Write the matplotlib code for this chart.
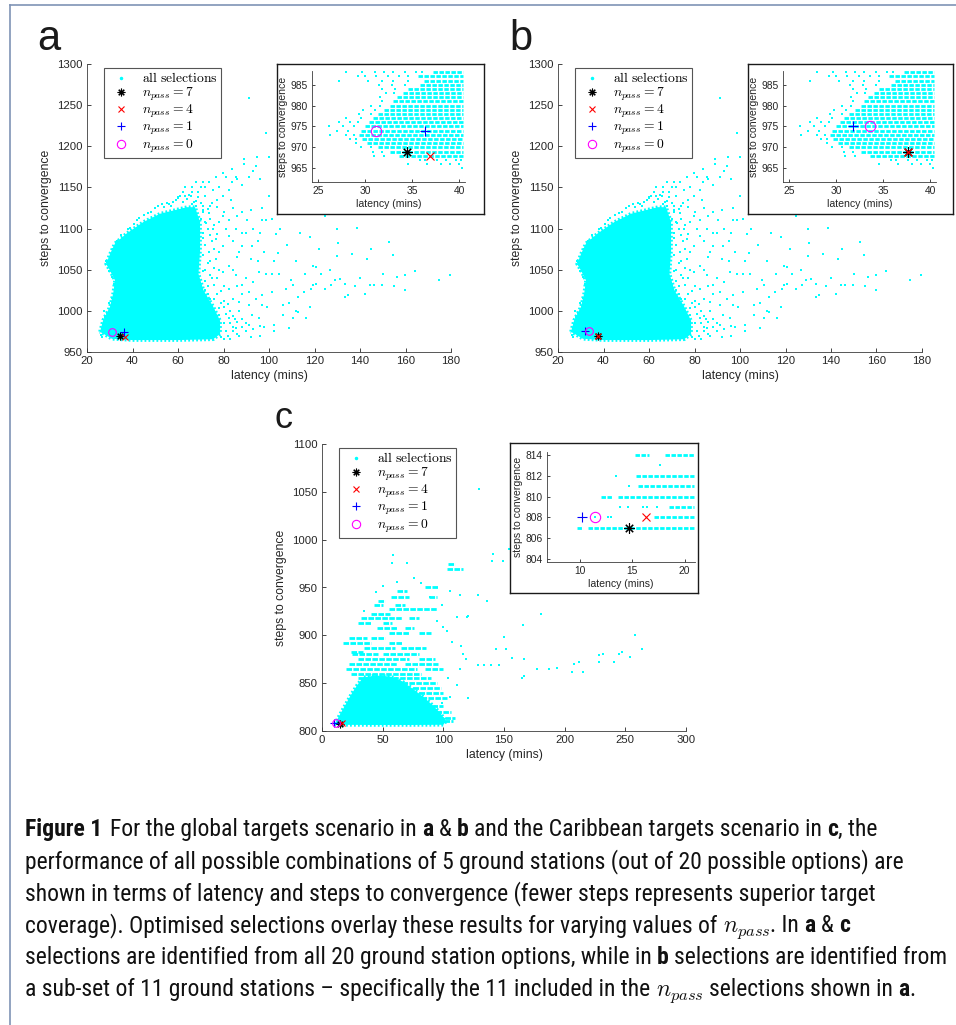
import matplotlib
matplotlib.use('Agg')
import matplotlib.pyplot as plt
from matplotlib import font_manager as fm
from matplotlib.lines import Line2D

W, H = 956, 1025
CYAN = '#00ffff'

# ---------------- DATA ----------------
# Panels a & b share the same "all selections" cloud
ab_core_lat = [25.7, 27.1, 30.1, 31.5, 32.3, 30.1, 28.4, 30.1, 32.3, 37.4, 44.8, 52.1, 58.0, 63.9, 67.5,
               69.7, 69.7, 69.0, 71.2, 75.5, 78.5, 78.5, 75.5, 60.0, 40.0, 31.0, 25.7]
ab_core_steps = [974.6, 988.6, 1005, 1021, 1037, 1049, 1057, 1069, 1082, 1094, 1108, 1118, 1122, 1126,
                 1126, 1108, 1073, 1045, 1025, 1005, 988, 972, 965.5, 964.5, 964.5, 966, 974.6]

ab_pts_lat = [91.3, 98.6, 94.6, 100.0, 94.1, 89.0, 83.9, 79.6, 81.1, 76.7, 73.8, 70.9, 68.0, 70.1, 75.2,
              82.5, 79.6, 83.3, 85.3, 91.2, 88.2, 83.8, 65.7, 62.1, 59.1, 68.0, 73.8, 79.6, 82.5, 85.5,
              90.5, 90.1, 88.2, 92.7, 91.9, 82.5, 79.6, 76.7, 75.2, 72.3, 70.9, 73.8, 76.7, 82.5, 79.6,
              85.5, 88.2, 91.2, 82.5, 94.1, 97.1, 91.2, 86.8, 97.1, 101.5, 99.3, 92.7, 95.6, 89.7, 82.5,
              85.5, 81.1, 76.7, 102.3, 108.9, 110.4, 112.6, 106.0, 108.9, 112.6, 115.5, 118.5, 119.2,
              120.7, 124.4, 127.3, 128.8, 131.0, 133.2, 134.6, 133.2, 120.7, 119.2, 116.3, 109.6, 110.4,
              107.5, 104.5, 101.5, 98.6, 95.6, 113.6, 130.5, 129.8, 136.4, 138.6, 143.0, 144.5, 146.0,
              149.6, 152.9, 154.7, 156.2, 159.8, 159.8, 164.2, 174.9, 179.6, 124.4, 101.5, 98.6, 103.0,
              72, 66, 63, 77, 74, 71, 73, 76, 74, 72, 75, 73, 77, 74, 80, 78, 80, 78, 83, 85, 87, 84, 88,
              90, 93, 86, 88, 86, 92, 80, 96, 95,
              26, 27.5, 26.8, 28, 29, 29.8, 31, 32.5, 33.5, 34, 29, 28.5, 30.5, 31.5, 33, 35, 38,
              40.5, 43, 45, 48, 50, 53, 56, 58, 60, 47, 51, 55, 42, 39,
              33, 34, 33.5, 32, 31, 29.5, 33, 34.5, 31.5, 27.5,
              79, 82, 84, 86, 80, 83, 88, 90, 76, 79, 72,
              71, 73, 75, 77, 70, 72, 74, 76, 78, 71, 74, 77, 72, 75, 78, 71, 73, 76, 71, 74, 77, 72,
              76, 79, 73, 76, 80, 78, 82, 81, 84, 86, 88, 84, 87, 80, 83, 91, 93, 96, 86, 84, 87, 84,
              81, 84, 88, 78, 72, 69, 63, 61, 66, 86, 93, 89, 96, 100, 97, 105, 108, 104, 112, 116,
              102, 98, 95, 93, 97, 123, 127, 140, 138, 142, 150, 155, 145, 130, 118, 122, 112, 118,
              106, 102, 98, 96, 92,
              62, 64, 66, 68, 70, 57, 60, 65, 69, 71, 54, 67]
ab_pts_steps = [1259, 1216, 1187, 1187, 1176, 1179, 1173, 1167, 1163, 1163, 1156, 1157, 1156, 1151, 1147,
                1147, 1139, 1135, 1163, 1163, 1153, 1157, 1139, 1144, 1135, 1127, 1119, 1115, 1111, 1099,
                1111, 1095, 1079, 1079, 1063, 1091, 1079, 1087, 1099, 1107, 1095, 1071, 1063, 1055, 1047,
                1043, 1031, 1023, 1027, 1015, 1007, 1007, 1011, 1019, 1023, 1005, 995, 991, 985, 991,
                979, 975, 981, 983, 979, 991, 999, 1007, 1009, 1017, 1023, 1027, 1031,
                1033, 1027, 1031, 1037, 1039, 1033, 1019, 1017, 1053, 1055, 991, 1037, 1031,
                1027, 1045, 1045, 1045, 1047, 1095, 1083, 1067, 1069, 1101, 1063, 1031, 1031,
                1031, 1084, 1068, 1041, 1043, 1025, 1048, 1038, 1043, 1115, 1112, 1110, 1094,
                1140, 1145, 1140, 1135, 1128, 1120, 1100, 1075, 1060, 1050, 1040, 1030, 1020, 1015, 1030,
                1050, 1005, 995, 1000, 990, 1000, 1015, 1020, 1040, 1035, 1065, 1095, 1115, 1122, 1120,
                1095, 1060,
                971, 981, 968, 992, 998, 1010, 1016, 1026, 1032, 1040, 1059, 1061, 1063, 1075, 1085,
                1092, 1099, 1105, 1113, 1116, 1120, 1125, 1130, 1130, 1132, 1137, 1119, 1127, 1131,
                1110, 1101,
                1044, 1028, 1052, 1033, 1041, 1049, 1054, 1047, 1012, 1000,
                968, 970, 975, 972, 985, 985, 980, 975, 1000, 1010, 1025,
                1128, 1124, 1131, 1126, 1112, 1108, 1112, 1104, 1108, 1088, 1092, 1094, 1080, 1085,
                1072, 1068, 1058, 1052, 1048, 1044, 1040, 1036, 1032, 1024, 1020, 1014, 1012, 1004, 1008,
                996, 994, 986, 990, 980, 970, 966, 966, 983, 978, 982, 1030, 1050, 1072, 1085, 1100,
                1125, 1120, 1150, 1150, 1145, 1150, 1140, 1150, 1160, 1170, 1185, 1160, 1140, 1125,
                1100, 1080, 1070, 1060, 1045, 1060, 1072, 1085, 1100, 1110, 1045, 1050, 1040, 1030,
                1020, 1045, 1030, 1075, 1100, 1090, 1075, 1000, 1005, 995, 975, 980, 970, 968,
                1132, 1136, 1130, 1134, 1131, 1128, 1138, 1141, 1138, 1122, 1126, 1132]

# inset (a & b): horizontal rows of selections at integer step counts
ab_row_steps = [988, 987, 986, 985, 984, 983, 982, 981, 980, 979, 978, 977, 976, 975, 974, 973, 972,
                971, 970, 969, 968]
ab_row_start = [37.2, 35.6, 36.2, 35.8, 34.6, 34.0, 33.4, 33.0, 32.6, 32.0, 31.4, 30.8, 30.4, 30.0,
                29.6, 29.4, 29.7, 30.2, 31.4, 32.6, 33.6]
ab_row_end = [40.4] * 21
ab_ins_lat = [28.0, 29.7, 31.1, 32.0, 33.0, 34.2, 35.4, 36.0,
              29.2, 30.0, 31.2, 32.4, 33.6, 34.6,
              27.2, 30.3, 31.8, 33.0, 34.5,
              31.5, 32.8, 34.2, 31.8, 33.2, 32.2, 33.1, 31.6, 31.8, 30.6, 31.6, 29.8, 31.0,
              29.4, 30.6, 28.0, 29.6, 27.2, 28.4, 29.2, 26.2, 27.6, 28.8, 27.0, 28.2,
              26.3, 28.0, 28.8, 28.4, 29.0, 29.0, 29.6, 30.6, 30.8, 31.8, 30.9, 32.0,
              35.8, 36.4, 37.6, 38.6, 39.6, 40.2, 34.6, 36.6, 38.0, 39.0, 40.0, 40.3]
ab_ins_steps = [988, 988, 988, 988, 988, 988, 988, 988,
                987, 987, 987, 987, 987, 987,
                986, 986, 986, 986, 986,
                985, 985, 985, 984, 984, 983, 983, 982, 981, 980, 980, 979, 979,
                978, 978, 977, 977, 976, 976, 976, 975, 975, 975, 974, 974,
                973, 973, 973, 972, 972, 971, 970, 970, 969, 969, 968, 968,
                967, 967, 967, 967, 967, 967, 966, 966, 966, 966, 966, 965]

# Panel c cloud
c_core_lat = [10, 40, 75, 100, 102, 98, 92, 85, 76, 66, 56, 44, 34, 29, 24, 20, 16, 12.5, 10]
c_core_steps = [806.5, 806.3, 806.3, 806.5, 810, 818, 826, 834, 843, 852, 857, 858, 856, 848, 838,
                829, 820, 812, 806.5]
c_streak_steps = [975, 969, 950, 946, 940, 940, 936, 932, 932, 928, 922, 918, 918, 913, 913, 908, 908,
                  902, 902, 897, 897, 892, 892, 887, 887, 883, 880, 880, 875, 875, 870, 870, 865, 865,
                  860, 855, 850, 845, 840, 835, 826, 820, 814, 810]
c_streak_lat0 = [104, 103, 85, 62, 57, 88, 46, 43, 60, 55, 40, 32, 72, 30, 50, 45, 68,
                 55, 80, 22, 40, 17, 55, 35, 65, 24, 25, 50, 30, 80, 22, 68, 20, 85,
                 24, 30, 60, 75, 80, 82, 85, 88, 90, 95]
c_streak_lat1 = [110, 116, 96, 70, 72, 95, 52, 50, 68, 95, 56, 66, 80, 40, 58, 62, 76,
                 72, 90, 37, 52, 40, 66, 60, 86, 34, 46, 80, 72, 93, 62, 96, 78, 100,
                 82, 90, 95, 98, 100, 103, 100, 106, 110, 108]
c_pts_lat = [58.8, 57.4, 69.8, 129, 141, 140, 149, 154, 62.2, 44.3, 113.7, 128.8, 135.7, 111, 119.2,
             100, 165.9, 180.4, 150.2, 143.3, 151.5, 157, 166.6, 165.2, 166.6, 177.6, 187.2, 194,
             207.7, 211.8, 206.3, 215.3, 228, 228.5, 232, 240.5, 244.6, 247.3, 254, 258.3, 263.8,
             114.6, 116, 128.4, 133.9, 139.4, 146.2, 102.8, 105.5, 89, 98.6, 106.8, 113.6, 104, 119,
             111, 105.5, 120.7, 98.6, 120, 76, 50, 35, 82, 95]
c_pts_steps = [984, 976, 976, 1053, 985, 978, 978, 990, 956, 945, 942, 942, 936, 919, 919,
               909, 911, 922, 898, 886, 886, 876, 875, 855, 857, 865, 865, 866,
               870, 872, 862, 862, 872, 879, 880, 872, 881, 883, 877, 900, 886,
               889, 880, 869, 869, 869, 869, 905, 946, 940, 932, 893, 865, 855, 875,
               848, 836, 834, 829, 920, 960, 952, 925, 955, 915]

# inset c rows
c_row_steps = [814, 814, 812, 811, 810, 810, 809, 808, 807, 807]
c_row_start = [15.3, 18.1, 15.4, 15.6, 12.0, 13.7, 18.5, 17.1, 9.8, 10.8]
c_row_end = [16.6, 20.9, 20.9, 20.9, 13.1, 20.9, 20.9, 20.9, 10.3, 20.9]
c_ins_lat = [17.7, 13.5, 14.75, 13.9, 14.6, 16.0, 16.4, 17.4, 11.5, 12.7, 13.0]
c_ins_steps = [813, 812, 811, 809, 809, 809, 809, 809, 808, 808, 808]

# optimised selections, order: n_pass = 7, 4, 1, 0
npass_values = ['7', '4', '1', '0']
a_sel_lat = [34.4, 36.9, 36.4, 31.2]
a_sel_steps = [969, 968, 974, 974]
b_sel_lat = [37.6, 37.6, 31.8, 33.6]
b_sel_steps = [969, 969, 975, 975]
c_sel_lat = [14.7, 16.3, 10.2, 11.5]
c_sel_steps = [807, 808, 808, 808]

ab_xticks = [20, 40, 60, 80, 100, 120, 140, 160, 180]
ab_yticks = [950, 1000, 1050, 1100, 1150, 1200, 1250, 1300]
c_xticks = [0, 50, 100, 150, 200, 250, 300]
c_yticks = [800, 850, 900, 950, 1000, 1050, 1100]
abi_xticks = [25, 30, 35, 40]
abi_yticks = [965, 970, 975, 980, 985]
ci_xticks = [10, 15, 20]
ci_yticks = [804, 806, 808, 810, 812, 814]

# ---------------- STYLE ----------------
plt.rcParams['font.family'] = ['Liberation Sans', 'DejaVu Sans']
plt.rcParams['mathtext.fontset'] = 'cm'

fig = plt.figure(figsize=(W / 100, H / 100), dpi=100)


def add_axes_px(x0, y0, x1, y1, **kw):
    return fig.add_axes([x0 / W, 1 - y1 / H, (x1 - x0) / W, (y1 - y0) / H], **kw)


def style_axes(ax, fs, ticklen=3):
    for s in ['top', 'right']:
        ax.spines[s].set_visible(False)
    for s in ['left', 'bottom']:
        ax.spines[s].set_color('#3c3c3c')
        ax.spines[s].set_linewidth(0.6)
    ax.tick_params(direction='in', length=ticklen, width=0.6, colors='#262626',
                   labelsize=fs, pad=3)


def draw_sel(ax, lat, steps, big=False):
    k = 1.35 if big else 1.0
    ax.plot(lat[0], steps[0], ls='none', marker=(8, 2, 0), ms=5.5 * k, mec='k', mew=0.8, zorder=5)
    ax.plot(lat[1], steps[1], ls='none', marker='x', ms=4.2 * k, mec='red', mew=0.8, zorder=5)
    ax.plot(lat[2], steps[2], ls='none', marker='+', ms=5.5 * k, mec='blue', mew=0.8, zorder=5)
    ax.plot(lat[3], steps[3], ls='none', marker='o', ms=5.5 * k, mfc='none', mec='magenta',
            mew=0.8, zorder=5)


def add_legend(ax, x0, y0):
    handles = [Line2D([], [], ls='none', marker='.', ms=3, color=CYAN),
               Line2D([], [], ls='none', marker=(8, 2, 0), ms=5.5, mec='k', mew=0.8),
               Line2D([], [], ls='none', marker='x', ms=4.2, mec='red', mew=0.8),
               Line2D([], [], ls='none', marker='+', ms=5.5, mec='blue', mew=0.8),
               Line2D([], [], ls='none', marker='o', ms=6, mfc='none', mec='magenta', mew=0.8)]
    labels = [r'$\mathrm{all\ selections}$'] + [r'$n_{pass} = %s$' % v for v in npass_values]
    leg = ax.legend(handles, labels, loc='upper left', bbox_to_anchor=(x0 / W, 1 - y0 / H),
                    bbox_transform=fig.transFigure, borderaxespad=0, frameon=True,
                    fancybox=False, edgecolor='#555555', framealpha=1, fontsize=9.8,
                    borderpad=0.25, handlelength=2.0, handletextpad=0.55, labelspacing=0.0)
    leg.get_frame().set_linewidth(0.8)


def main_panel(box, core_lat, core_steps, pts_lat, pts_steps, sel_lat, sel_steps, xlim, ylim,
               xt, yt, leg_xy, streaks=None):
    ax = add_axes_px(*box)
    ax.fill(core_lat, core_steps, color=CYAN, lw=0, zorder=2)
    ax.plot(core_lat, core_steps, color=CYAN, lw=2.6, ls=(0, (0.5, 0.6)), zorder=2)
    if streaks is not None:
        ax.hlines(streaks[0], streaks[1], streaks[2], colors=CYAN, lw=2.0,
                  linestyles=(0, (2.0, 0.5)), zorder=2)
    ax.scatter(pts_lat, pts_steps, s=4.5, marker='s', c=CYAN, linewidths=0, zorder=2)
    draw_sel(ax, sel_lat, sel_steps)
    ax.set_xlim(*xlim)
    ax.set_ylim(*ylim)
    ax.set_xticks(xt)
    ax.set_yticks(yt)
    style_axes(ax, 8.2)
    ax.set_xlabel('latency (mins)', fontsize=8.8, color='#262626', labelpad=3)
    ax.set_ylabel('steps to convergence', fontsize=8.8, color='#262626', labelpad=4)
    add_legend(ax, *leg_xy)
    return ax


def inset_panel(frame, box, row_steps, row_start, row_end, pts_lat, pts_steps, sel_lat, sel_steps,
                xlim, ylim, xt, yt):
    fr = add_axes_px(*frame)
    fr.set_zorder(3)
    fr.set_xticks([])
    fr.set_yticks([])
    for s in fr.spines.values():
        s.set_color('#1a1a1a')
        s.set_linewidth(1.0)
    ax = add_axes_px(*box)
    ax.set_zorder(4)
    ax.patch.set_alpha(0)
    ax.hlines(row_steps, row_start, row_end, colors=CYAN, lw=2.0,
              linestyles=(0, (1.6, 0.55)), zorder=2)
    ax.scatter(pts_lat, pts_steps, s=4.5, marker='s', c=CYAN, linewidths=0, zorder=2)
    draw_sel(ax, sel_lat, sel_steps, big=True)
    ax.set_xlim(*xlim)
    ax.set_ylim(*ylim)
    ax.set_xticks(xt)
    ax.set_yticks(yt)
    style_axes(ax, 7.4, ticklen=2.5)
    ax.set_xlabel('latency (mins)', fontsize=7.6, color='#262626', labelpad=2)
    ax.set_ylabel('steps to convergence', fontsize=7.6, color='#262626', labelpad=2)
    return ax


# panel a
main_panel((87, 64, 451, 352), ab_core_lat, ab_core_steps, ab_pts_lat, ab_pts_steps,
           a_sel_lat, a_sel_steps, (20, 180), (950, 1300), ab_xticks, ab_yticks, (104, 68))
inset_panel((277, 64, 484, 214), (312, 71, 465, 182), ab_row_steps, ab_row_start, ab_row_end,
            ab_ins_lat, ab_ins_steps, a_sel_lat, a_sel_steps, (24.36, 40.6), (961.7, 988.3),
            abi_xticks, abi_yticks)
# panel b
main_panel((558, 64, 922, 352), ab_core_lat, ab_core_steps, ab_pts_lat, ab_pts_steps,
           b_sel_lat, b_sel_steps, (20, 180), (950, 1300), ab_xticks, ab_yticks, (575, 68))
inset_panel((748, 64, 953, 214), (783, 71, 936, 182), ab_row_steps, ab_row_start, ab_row_end,
            ab_ins_lat, ab_ins_steps, b_sel_lat, b_sel_steps, (24.36, 40.6), (961.7, 988.3),
            abi_xticks, abi_yticks)
# panel c
main_panel((322, 444, 686, 731), c_core_lat, c_core_steps, c_pts_lat, c_pts_steps,
           c_sel_lat, c_sel_steps, (0, 300), (800, 1100), c_xticks, c_yticks, (339, 448),
           streaks=(c_streak_steps, c_streak_lat0, c_streak_lat1))
inset_panel((510, 443, 698, 593), (547, 452, 695, 562), c_row_steps, c_row_start, c_row_end,
            c_ins_lat, c_ins_steps, c_sel_lat, c_sel_steps, (6.9, 21.0), (803.7, 814.3),
            ci_xticks, ci_yticks)

# panel letters
fig.text(37 / W, 1 - 50 / H, 'a', fontsize=30, color='#1a1a1a', va='baseline')
fig.text(509 / W, 1 - 50 / H, 'b', fontsize=30, color='#1a1a1a', va='baseline')
fig.text(274 / W, 1 - 428 / H, 'c', fontsize=26, color='#1a1a1a', va='baseline')

# frame lines
fig.add_artist(Line2D([10 / W, 1.0], [1 - 5 / H, 1 - 5 / H], transform=fig.transFigure,
                      color='#7f93b5', lw=1.2))
fig.add_artist(Line2D([10 / W, 10 / W], [1 - 5 / H, 0.0], transform=fig.transFigure,
                      color='#7f93b5', lw=1.2))

# ---------------- CAPTION ----------------
names = {f.name for f in fm.fontManager.ttflist}
cap_family = None
for cand in ['Liberation Sans Narrow', 'Roboto Condensed', 'Open Sans Condensed', 'Arial Narrow']:
    if cand in names:
        cap_family = cand
        break
if cap_family is not None:
    fp_r = fm.FontProperties(family=cap_family)
    fp_b = fm.FontProperties(family=cap_family, weight='bold')
else:
    fp_r = fm.FontProperties(family='DejaVu Sans', stretch='condensed')
    fp_b = fm.FontProperties(family='DejaVu Sans', stretch='condensed', weight='bold')

cap_lines = [
    [('Figure 1', 'b', 0), ('For the global targets scenario in', 'r', 1.5), ('a', 'b', 1), ('&', 'r', 1),
     ('b', 'b', 1), ('and the Caribbean targets scenario in', 'r', 1), ('c', 'b', 1), (', the', 'r', 0)],
    [('performance of all possible combinations of 5 ground stations (out of 20 possible options) are',
      'r', 0)],
    [('shown in terms of latency and steps to convergence (fewer steps represents superior target',
      'r', 0)],
    [('coverage). Optimised selections overlay these results for varying values of', 'r', 0),
     (r'$n_{pass}$', 'm', 1), ('. In', 'r', 0), ('a', 'b', 1), ('&', 'r', 1), ('c', 'b', 1)],
    [('selections are identified from all 20 ground station options, while in', 'r', 0),
     ('b', 'b', 1), ('selections are identified from', 'r', 1)],
    [('a sub-set of 11 ground stations \u2013 specifically the 11 included in the', 'r', 0),
     (r'$n_{pass}$', 'm', 1), ('selections shown in', 'r', 1), ('a', 'b', 1), ('.', 'r', 0)],
]
cap_right = [912, 900, 883, 867, 952, 932]
cap_x0 = 25
cap_baselines = [836, 868, 900, 932, 964, 996]

renderer = fig.canvas.get_renderer()


def fp_for(sty, size):
    fp = (fp_b if sty == 'b' else fp_r).copy()
    fp.set_size(size)
    return fp


def text_w(txt, sty, size):
    t = fig.text(0, 0, txt, fontproperties=fp_for(sty, size))
    w = t.get_window_extent(renderer).width
    t.remove()
    return w


def space_w(size):
    return text_w('a a', 'r', size) - text_w('aa', 'r', size)


def line_w(runs, size):
    sp = space_w(size)
    return sum(g * sp + text_w(t, s, size) for t, s, g in runs)


s0 = 13.0
ratios = [(rx - cap_x0) / line_w(r, s0) for r, rx in zip(cap_lines, cap_right)]
cap_size = s0 * min(ratios)

for runs, yb in zip(cap_lines, cap_baselines):
    sp = space_w(cap_size)
    x = cap_x0
    for txt, sty, gap in runs:
        x += gap * sp
        t = fig.text(x / W, 1 - yb / H, txt, fontproperties=fp_for(sty, cap_size),
                     va='baseline', ha='left', color='#111111')
        x += t.get_window_extent(renderer).width

fig.savefig('out.png', dpi=100)
